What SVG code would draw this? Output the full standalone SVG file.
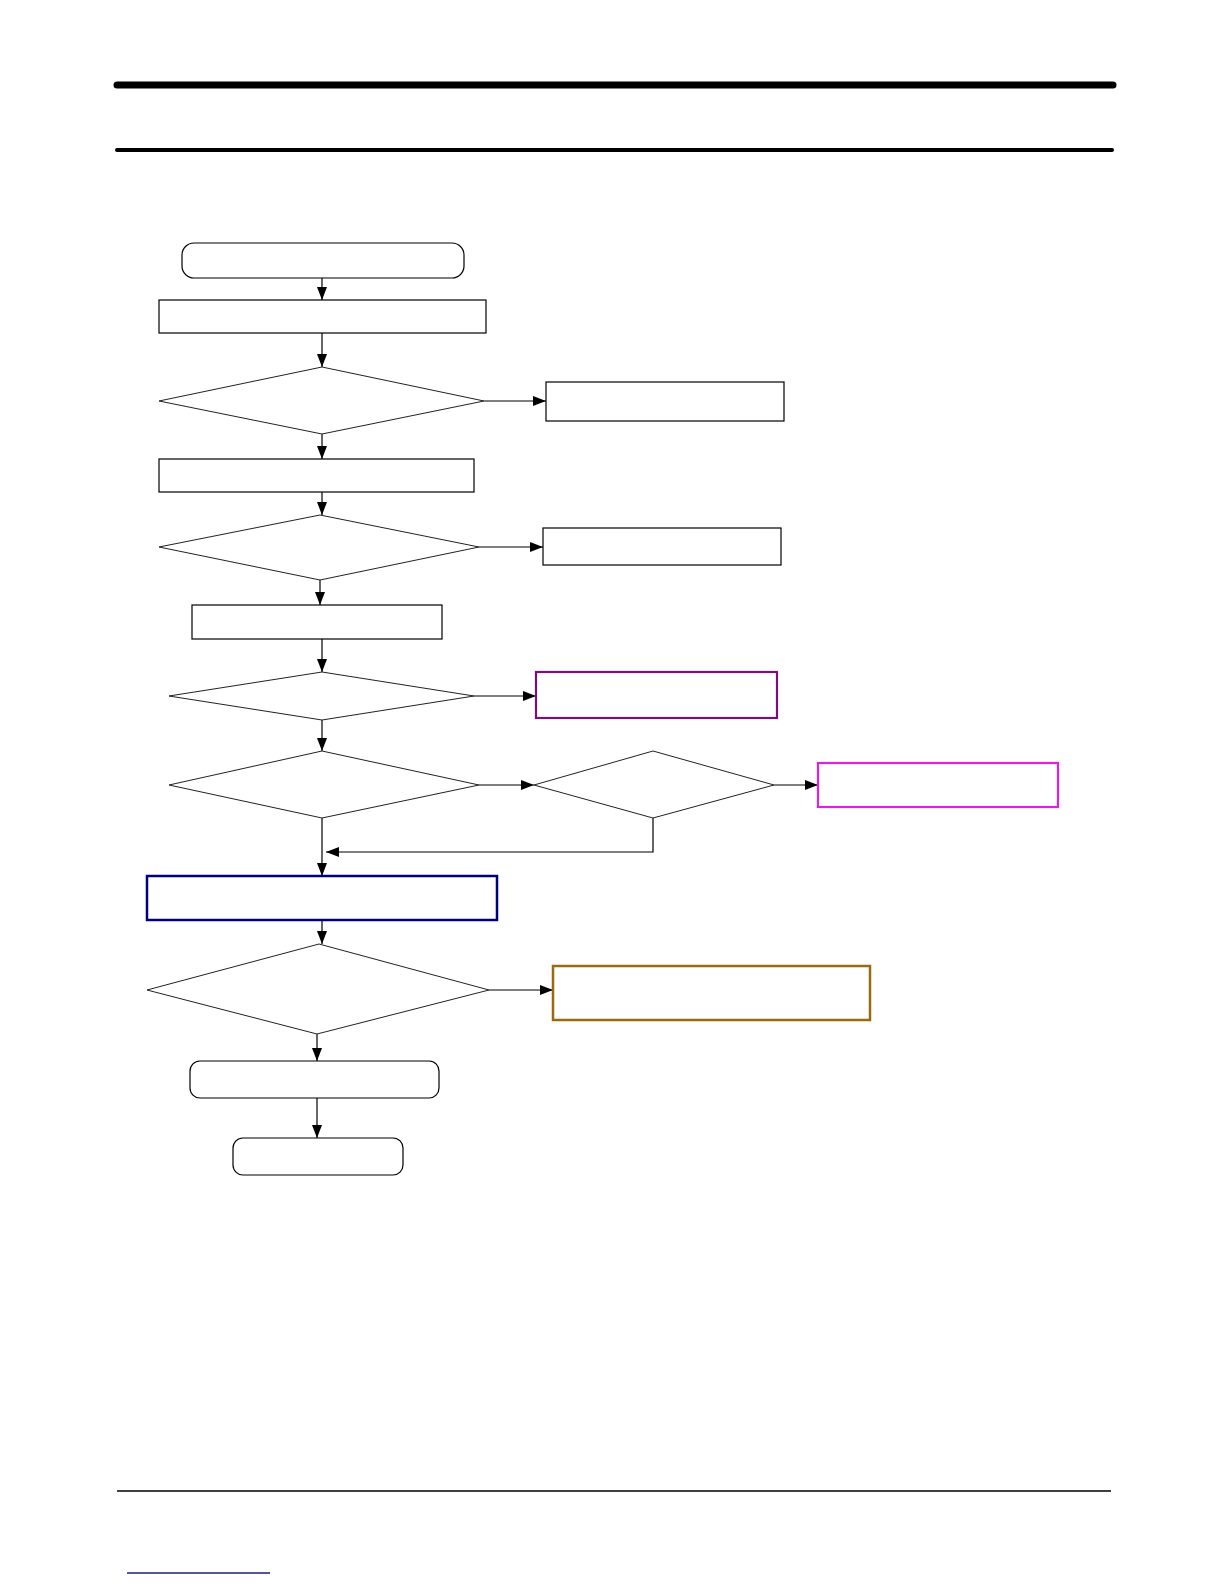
<svg xmlns="http://www.w3.org/2000/svg" width="1224" height="1584" viewBox="0 0 1224 1584">
<style>
.box{fill:#fff;stroke:#000;stroke-width:1.2}
.dia{fill:#fff;stroke:#222;stroke-width:1}
.con{fill:none;stroke:#000;stroke-width:1.2;marker-end:url(#arr)}
</style>
<defs>
<marker id="arr" markerUnits="userSpaceOnUse" markerWidth="14" markerHeight="12" refX="13" refY="5" orient="auto">
<path d="M0,0 L13,5 L0,10 z" fill="#000"/>
</marker>
</defs>
<rect width="1224" height="1584" fill="#fff"/>
<g id="page-rules">
<line x1="117" y1="85" x2="1113" y2="85" stroke="#000" stroke-width="7" stroke-linecap="round"/>
<line x1="117" y1="150" x2="1112" y2="150" stroke="#000" stroke-width="4" stroke-linecap="round"/>
<line x1="117" y1="1491" x2="1111" y2="1491" stroke="#000" stroke-width="1.5"/>
<line x1="127" y1="1573" x2="270" y2="1573" stroke="#1a1a8c" stroke-width="1.5"/>
</g>
<g id="connectors">
<path class="con" d="M322,278 V300"/>
<path class="con" d="M322,333 V367"/>
<path class="con" d="M484,401 H546"/>
<path class="con" d="M322,434 V459"/>
<path class="con" d="M322,492 V515"/>
<path class="con" d="M479,547 H543"/>
<path class="con" d="M320,580 V605"/>
<path class="con" d="M322,639 V672"/>
<path class="con" d="M474,696 H536"/>
<path class="con" d="M322,720 V751"/>
<path class="con" d="M479,785 H534"/>
<path class="con" d="M774,785 H818"/>
<path class="con" d="M322,818 V876"/>
<path class="con" d="M653,818 V852 H326"/>
<path class="con" d="M322,920 V944"/>
<path class="con" d="M489,990 H553"/>
<path class="con" d="M317,1034 V1061"/>
<path class="con" d="M317,1098 V1138"/>
</g>
<g id="n1"><rect class="box" x="182" y="243" width="282" height="35" rx="12"/></g>
<g id="n2"><rect class="box" x="159" y="300" width="327" height="33"/></g>
<g id="n3"><polygon class="dia" points="159,401 322,367 484,401 322,434"/></g>
<g id="n4"><rect class="box" x="546" y="382" width="238" height="39"/></g>
<g id="n5"><rect class="box" x="159" y="459" width="315" height="33"/></g>
<g id="n6"><polygon class="dia" points="159,547 320,515 479,547 320,580"/></g>
<g id="n7"><rect class="box" x="543" y="528" width="238" height="37"/></g>
<g id="n8"><rect class="box" x="192" y="605" width="250" height="34"/></g>
<g id="n9"><polygon class="dia" points="169,696 322,672 474,696 322,720"/></g>
<g id="n10"><rect x="536" y="672" width="241" height="46" fill="#fff" stroke="#7a0f7a" stroke-width="2.2"/></g>
<g id="n11"><polygon class="dia" points="169,785 322,751 479,785 322,818"/></g>
<g id="n12"><polygon class="dia" points="534,785 653,751 774,785 653,818"/></g>
<g id="n13"><rect x="818" y="763" width="240" height="44" fill="#fff" stroke="#e020e0" stroke-width="2.2"/></g>
<g id="n14"><rect x="147" y="876" width="350" height="44" fill="#fff" stroke="#00007a" stroke-width="2.5"/></g>
<g id="n15"><polygon class="dia" points="147,990 319,944 489,990 317,1034"/></g>
<g id="n16"><rect x="553" y="966" width="317" height="54" fill="#fff" stroke="#9a6a10" stroke-width="2.5"/></g>
<g id="n17"><rect class="box" x="190" y="1061" width="249" height="37" rx="10"/></g>
<g id="n18"><rect class="box" x="233" y="1138" width="170" height="37" rx="10"/></g>
</svg>
